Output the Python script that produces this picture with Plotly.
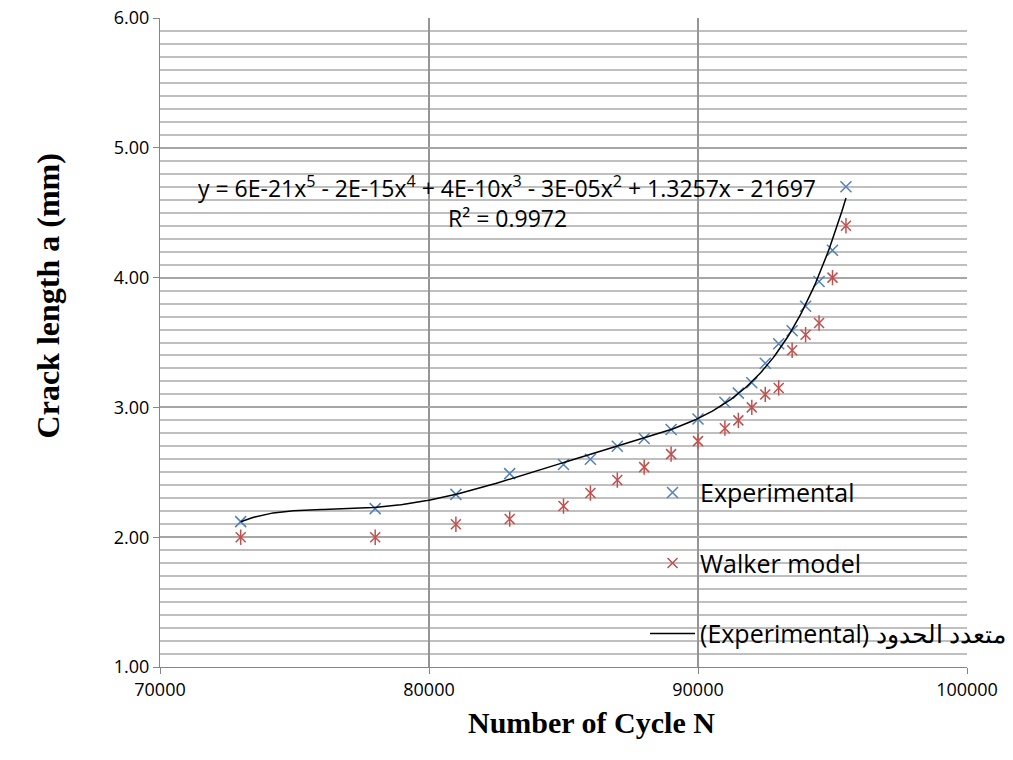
import numpy as np
import plotly.graph_objects as go

# cycles N and crack length a (mm)
cycles = [73000, 78000, 81000, 83000, 85000, 86000, 87000, 88000, 89000, 90000,
          91000, 91500, 92000, 92500, 93000, 93500, 94000, 94500, 95000, 95500]
a_experimental = [2.12, 2.22, 2.33, 2.49, 2.56, 2.60, 2.70, 2.76, 2.83, 2.91,
                  3.04, 3.11, 3.19, 3.34, 3.49, 3.59, 3.78, 3.97, 4.21, 4.70]
a_walker = [2.00, 2.00, 2.10, 2.14, 2.24, 2.34, 2.44, 2.54, 2.64, 2.74,
            2.84, 2.90, 3.00, 3.10, 3.15, 3.44, 3.56, 3.65, 4.00, 4.40]

equation = ("y = 6E-21x<sup>5</sup> - 2E-15x<sup>4</sup> + 4E-10x<sup>3</sup>"
            " - 3E-05x<sup>2</sup> + 1.3257x - 21697")
r_squared = "R² = 0.9972"

BLUE = "#4F81BD"
RED = "#C0504D"
FONT = "'Open Sans', 'Noto Sans', sans-serif"
SERIF = "'Liberation Serif', 'Times New Roman', serif"

# 5th order polynomial trendline of the experimental points (as Excel does)
poly = np.polynomial.Polynomial.fit(cycles, a_experimental, 5)
n_fit = np.linspace(min(cycles), max(cycles), 300)
a_fit = poly(n_fit)

fig = go.Figure()
fig.add_trace(go.Scatter(
    x=cycles, y=a_experimental, mode="markers", name="Experimental",
    legendgroup="exp", legendrank=1,
    marker=dict(symbol="x-thin-open", size=11, color=BLUE, line=dict(color=BLUE, width=1.5)),
))
fig.add_trace(go.Scatter(
    x=cycles, y=a_walker, mode="markers", name="Walker model",
    legendgroup="walker", legendrank=2,
    marker=dict(symbol="x-thin-open", size=10, color=RED, line=dict(color=RED, width=1.5)),
))
# vertical stroke turns the red x into Excel's star marker
fig.add_trace(go.Scatter(
    x=cycles, y=a_walker, mode="markers", showlegend=False, hoverinfo="skip",
    marker=dict(symbol="line-ns-open", size=11, color=RED, line=dict(color=RED, width=1.5)),
))
fig.add_trace(go.Scatter(
    x=n_fit, y=a_fit, mode="lines", name="(Experimental) متعدد الحدود",
    legendgroup="poly", legendrank=3,
    line=dict(color="black", width=1.5),
))

fig.add_annotation(x=82900, y=4.70, text=equation, showarrow=False,
                   font=dict(size=23, color="black"))
fig.add_annotation(x=82900, y=4.46, text=r_squared, showarrow=False,
                   font=dict(size=23, color="black"))

# axis titles placed as in the original (not centred on the plot)
fig.add_annotation(xref="paper", yref="paper", x=0.535, y=-0.114,
                   text="<b>Number of Cycle N</b>", showarrow=False,
                   font=dict(family=SERIF, size=30, color="black"))
fig.add_annotation(xref="paper", yref="paper", x=-0.164, y=0.572,
                   text="<b>Crack length a (mm)</b>", showarrow=False, textangle=-90,
                   font=dict(family=SERIF, size=32, color="black"))

fig.update_layout(
    width=1005, height=752,
    margin=dict(l=152, r=46, t=10, b=93, autoexpand=False),
    paper_bgcolor="white", plot_bgcolor="white",
    font=dict(family=FONT, size=18, color="black"),
    legend=dict(
        x=0.601, y=0.304, xanchor="left", yanchor="top",
        bgcolor="rgba(0,0,0,0)", font=dict(size=25),
        tracegroupgap=35, itemwidth=45,
    ),
)
fig.update_xaxes(
    range=[70000, 100000], dtick=10000, tickformat="d",
    showline=True, linecolor="#868686", linewidth=1,
    ticks="outside", ticklen=6, tickcolor="#868686",
    showgrid=True, gridcolor="#969696", gridwidth=1.5, zeroline=False,
    ticklabeloverflow="allow", automargin=False,
)
fig.update_yaxes(
    range=[1, 6], dtick=1, tickformat=".2f",
    showline=True, linecolor="#868686", linewidth=1,
    ticks="outside", ticklen=6, tickcolor="#868686",
    showgrid=True, gridcolor="#A6A6A6", gridwidth=1.5, zeroline=False,
    minor=dict(dtick=0.1, showgrid=True, gridcolor="#BFBFBF", gridwidth=1.5),
    ticklabeloverflow="allow", automargin=False,
)

fig.write_html("out.html")
